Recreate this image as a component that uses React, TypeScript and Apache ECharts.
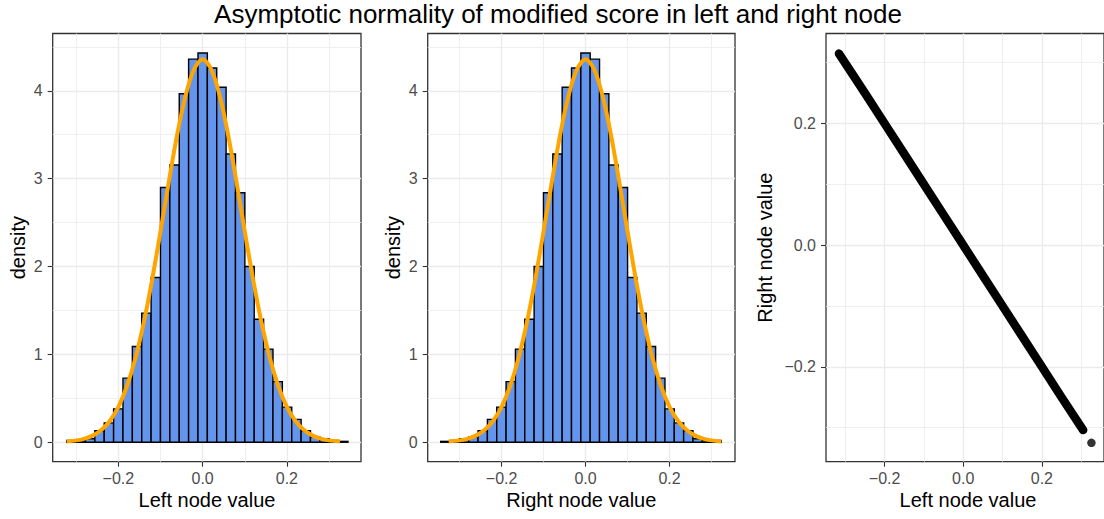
import React, { useEffect, useRef } from "react";
import * as echarts from "echarts";

// ---- data ----
const binWidth = 0.02226;
const leftBinStart = -0.3227;
const leftDensity = [
  0.02, 0.02, 0.04, 0.13, 0.22, 0.38, 0.73, 1.09, 1.47, 1.875, 2.9, 3.155, 3.966, 4.36, 4.43,
  4.26, 4.04, 3.28, 2.84, 2.0, 1.4, 1.06, 0.69, 0.4, 0.26, 0.13, 0.06, 0.04, 0.02, 0.01,
];
const rightBinStart = -0.3451;
const rightDensity = [
  0.01, 0.02, 0.04, 0.06, 0.13, 0.26, 0.4, 0.69, 1.06, 1.4, 2.0, 2.84, 3.28, 4.04, 4.26,
  4.43, 4.36, 3.966, 3.155, 2.9, 1.875, 1.47, 1.09, 0.73, 0.38, 0.22, 0.13, 0.04, 0.02, 0.02,
];

const leftCurveX = [
  -0.323, -0.3, -0.28, -0.26, -0.24, -0.22, -0.2, -0.18, -0.16, -0.14, -0.12, -0.1, -0.08, -0.06,
  -0.04, -0.02, 0.0, 0.02, 0.04, 0.06, 0.08, 0.1, 0.12, 0.14, 0.16, 0.18, 0.2, 0.22, 0.24, 0.26,
  0.28, 0.3, 0.326,
];
const leftCurveY = [
  0.009, 0.021, 0.041, 0.078, 0.142, 0.245, 0.403, 0.634, 0.95, 1.357, 1.848, 2.4, 2.973, 3.512,
  3.955, 4.248, 4.36, 4.248, 3.955, 3.512, 2.973, 2.4, 1.848, 1.357, 0.95, 0.634, 0.403, 0.245,
  0.142, 0.078, 0.041, 0.021, 0.008,
];
const rightCurveX = [
  -0.326, -0.3, -0.28, -0.26, -0.24, -0.22, -0.2, -0.18, -0.16, -0.14, -0.12, -0.1, -0.08, -0.06,
  -0.04, -0.02, 0.0, 0.02, 0.04, 0.06, 0.08, 0.1, 0.12, 0.14, 0.16, 0.18, 0.2, 0.22, 0.24, 0.26,
  0.28, 0.3, 0.323,
];
const rightCurveY = [
  0.008, 0.021, 0.041, 0.078, 0.142, 0.245, 0.403, 0.634, 0.95, 1.357, 1.848, 2.4, 2.973, 3.512,
  3.955, 4.248, 4.36, 4.248, 3.955, 3.512, 2.973, 2.4, 1.848, 1.357, 0.95, 0.634, 0.403, 0.245,
  0.142, 0.078, 0.041, 0.021, 0.009,
];

const bandLeft = [-0.316, -0.25, -0.2, -0.15, -0.1, -0.05, 0.0, 0.05, 0.1, 0.15, 0.2, 0.25, 0.305];
const bandRight = [0.315, 0.25, 0.2, 0.15, 0.1, 0.05, 0.0, -0.05, -0.1, -0.15, -0.2, -0.25, -0.304];
const outlierLeft = [0.326];
const outlierRight = [-0.325];

const histMajorX = [-0.2, 0.0, 0.2];
const histMinorX = [-0.3, -0.1, 0.1, 0.3];
const densityMajor = [0, 1, 2, 3, 4];
const densityMinor = [0.5, 1.5, 2.5, 3.5, 4.5];
const scatterMajor = [-0.2, 0.0, 0.2];
const scatterMinor = [-0.3, -0.1, 0.1, 0.3];

const titleText = "Asymptotic normality of modified score in left and right node";
const leftLabel = "Left node value";
const rightLabel = "Right node value";
const densityLabel = "density";

// ---- styling ----
const FONT = '"Liberation Sans", Arial, Helvetica, sans-serif';
const GRID_COLOR = "#EBEBEB";

function fmtDec(v: number) {
  const s = Math.abs(v).toFixed(1);
  return v < -1e-9 ? "\u2212" + s : s;
}
function fmtInt(v: number) {
  return String(Math.round(v));
}

function bins(start: number, dens: number[]) {
  return dens.map((d, i) => [start + i * binWidth, start + (i + 1) * binWidth, d]);
}
function pairs(xs: number[], ys: number[]) {
  return xs.map((x, i) => [x, ys[i]]);
}

function majorAxis(
  kind: "x" | "y",
  gridIndex: number,
  min: number,
  max: number,
  values: number[],
  fmt: (v: number) => string
) {
  return {
    type: "value",
    gridIndex,
    min,
    max,
    position: kind === "x" ? "bottom" : "left",
    axisLine: { show: false, onZero: false },
    axisTick: {
      show: true,
      length: 5,
      customValues: values,
      lineStyle: { color: "#333333", width: 1.1 },
    },
    axisLabel: {
      customValues: values,
      formatter: fmt,
      color: "#4D4D4D",
      fontSize: 16,
      fontFamily: FONT,
      margin: kind === "x" ? 9 : 10,
    },
    splitLine: { show: true, lineStyle: { color: GRID_COLOR, width: 1.4 } },
    minorTick: { show: false },
    minorSplitLine: { show: false },
  };
}
function minorAxis(kind: "x" | "y", gridIndex: number, min: number, max: number, values: number[]) {
  return {
    type: "value",
    gridIndex,
    min,
    max,
    position: kind === "x" ? "top" : "right",
    axisLine: { show: false, onZero: false },
    axisTick: { show: false, customValues: values },
    axisLabel: { show: false, customValues: values },
    splitLine: { show: true, lineStyle: { color: GRID_COLOR, width: 0.8 } },
  };
}

function barRender(params: any, api: any) {
  const x0 = api.value(0);
  const x1 = api.value(1);
  const h = api.value(2);
  const p0 = api.coord([x0, h]);
  const p1 = api.coord([x1, 0]);
  return {
    type: "rect",
    shape: { x: p0[0], y: p0[1], width: p1[0] - p0[0], height: p1[1] - p0[1] },
    style: { fill: "#6495ED", stroke: "#000000", lineWidth: 1.4 },
  };
}

const gridBox = { show: true, borderColor: "#333333", borderWidth: 1.3, backgroundColor: "#FFFFFF" };

export default function App() {
  const ref = useRef<HTMLDivElement>(null);

  useEffect(() => {
    if (!ref.current) return;
    const chart = echarts.init(ref.current, null, { renderer: "svg", width: 1104, height: 519 });

    const option: any = {
      animation: false,
      backgroundColor: "#FFFFFF",
      grid: [
        { ...gridBox, left: 52.7, top: 33.5, width: 308.3, height: 428.2 },
        { ...gridBox, left: 427.7, top: 33.5, width: 307.3, height: 428.2 },
        { ...gridBox, left: 826, top: 33.5, width: 283.5, height: 428.2 },
      ],
      xAxis: [
        majorAxis("x", 0, -0.356, 0.376, histMajorX, fmtDec),
        minorAxis("x", 0, -0.356, 0.376, histMinorX),
        majorAxis("x", 1, -0.376, 0.356, histMajorX, fmtDec),
        minorAxis("x", 1, -0.376, 0.356, histMinorX),
        majorAxis("x", 2, -0.349, 0.358, scatterMajor, fmtDec),
        minorAxis("x", 2, -0.349, 0.358, scatterMinor),
      ],
      yAxis: [
        majorAxis("y", 0, -0.2215, 4.652, densityMajor, fmtInt),
        minorAxis("y", 0, -0.2215, 4.652, densityMinor),
        majorAxis("y", 1, -0.2215, 4.652, densityMajor, fmtInt),
        minorAxis("y", 1, -0.2215, 4.652, densityMinor),
        majorAxis("y", 2, -0.356, 0.348, scatterMajor, fmtDec),
        minorAxis("y", 2, -0.356, 0.348, scatterMinor),
      ],
      series: [
        {
          type: "custom",
          xAxisIndex: 0,
          yAxisIndex: 0,
          renderItem: barRender,
          encode: { x: [0, 1], y: 2 },
          data: bins(leftBinStart, leftDensity),
          z: 2,
          silent: true,
        },
        {
          type: "line",
          xAxisIndex: 0,
          yAxisIndex: 0,
          data: pairs(leftCurveX, leftCurveY),
          showSymbol: false,
          symbol: "none",
          smooth: 0.3,
          lineStyle: { color: "#FFA500", width: 4 },
          z: 3,
          silent: true,
        },
        {
          type: "custom",
          xAxisIndex: 2,
          yAxisIndex: 2,
          renderItem: barRender,
          encode: { x: [0, 1], y: 2 },
          data: bins(rightBinStart, rightDensity),
          z: 2,
          silent: true,
        },
        {
          type: "line",
          xAxisIndex: 2,
          yAxisIndex: 2,
          data: pairs(rightCurveX, rightCurveY),
          showSymbol: false,
          symbol: "none",
          smooth: 0.3,
          lineStyle: { color: "#FFA500", width: 4 },
          z: 3,
          silent: true,
        },
        {
          type: "line",
          xAxisIndex: 4,
          yAxisIndex: 4,
          data: pairs(bandLeft, bandRight),
          showSymbol: false,
          symbol: "none",
          lineStyle: { color: "#000000", width: 8.5, cap: "round", join: "round" },
          z: 3,
          silent: true,
        },
        {
          type: "scatter",
          xAxisIndex: 4,
          yAxisIndex: 4,
          data: pairs(outlierLeft, outlierRight),
          symbol: "circle",
          symbolSize: 8.5,
          itemStyle: { color: "#000000" },
          z: 3,
          silent: true,
        },
      ],
      graphic: [
        {
          type: "text",
          x: 558,
          y: 13.5,
          style: { text: titleText, font: `26px ${FONT}`, fill: "#000000", align: "center", verticalAlign: "middle" },
        },
        {
          type: "text",
          x: 207,
          y: 500,
          style: { text: leftLabel, font: `20px ${FONT}`, fill: "#000000", align: "center", verticalAlign: "middle" },
        },
        {
          type: "text",
          x: 581.3,
          y: 500,
          style: { text: rightLabel, font: `20px ${FONT}`, fill: "#000000", align: "center", verticalAlign: "middle" },
        },
        {
          type: "text",
          x: 968,
          y: 500,
          style: { text: leftLabel, font: `20px ${FONT}`, fill: "#000000", align: "center", verticalAlign: "middle" },
        },
        {
          type: "text",
          x: 18,
          y: 247.6,
          rotation: Math.PI / 2,
          style: { text: densityLabel, font: `20px ${FONT}`, fill: "#000000", align: "center", verticalAlign: "middle" },
        },
        {
          type: "text",
          x: 393,
          y: 247.6,
          rotation: Math.PI / 2,
          style: { text: densityLabel, font: `20px ${FONT}`, fill: "#000000", align: "center", verticalAlign: "middle" },
        },
        {
          type: "text",
          x: 765,
          y: 247.6,
          rotation: Math.PI / 2,
          style: { text: rightLabel, font: `20px ${FONT}`, fill: "#000000", align: "center", verticalAlign: "middle" },
        },
      ],
    };

    chart.setOption(option);
    return () => chart.dispose();
  }, []);

  return (
    <div
      ref={ref}
      style={{ position: "absolute", left: 0, top: 0, width: 1104, height: 519, background: "#FFFFFF", overflow: "hidden" }}
    />
  );
}
